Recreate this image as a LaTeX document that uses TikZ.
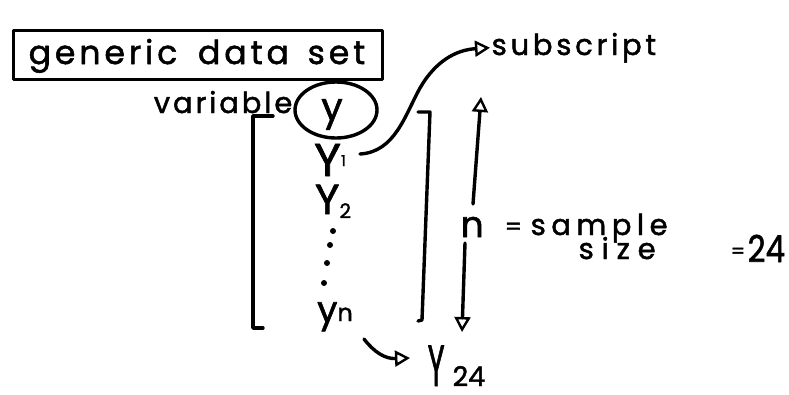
\documentclass[tikz,border=0pt]{standalone}
\usepackage{fontspec}
\setmainfont{Poppins}[FakeBold=1.6]
\usetikzlibrary{arrows.meta,shapes.geometric}

\newcommand{\hw}[2]{\fontsize{#1}{#1}\selectfont\addfontfeature{LetterSpace=#2}}

\begin{document}
\begin{tikzpicture}[x=1pt,y=-1pt,line width=3.4pt,line cap=round,line join=round,
  txt/.style={inner sep=0pt,anchor=base},
  tip/.style={-{Triangle[open,length=15pt,width=16pt,line width=2.4pt]}},
  dot/.style={circle,fill,inner sep=0pt,minimum size=6pt}]
\useasboundingbox (0,0) rectangle (789,394);

% title box
\node[draw,rectangle,minimum width=369pt,minimum height=49pt,anchor=north west,inner sep=0pt] (box) at (12,29) {};
\node[txt] (title) at (197,64) {\hw{33}{12}generic\hspace{8pt} data\hspace{6pt} set};

% variable label and circled y
\node[txt,anchor=base east] (var) at (294,113) {\hw{29}{10}variable};
\node[draw,ellipse,minimum width=82pt,minimum height=56pt,inner sep=0pt] (circ) at (336,110) {};
\node[txt] (yy) at (332,120) {\hw{38}{0}y};

% the column of values
\node[txt] (y1) at (330,176) {\hw{46}{0}Y\raisebox{10pt}{\hw{15}{0}1}};
\node[txt] (y2) at (333,214) {\hw{42}{0}Y\raisebox{-4pt}{\hw{20}{0}2}};
\node[dot] (d1) at (333,231) {};
\node[dot] (d2) at (330,245) {};
\node[dot] (d3) at (327,263) {};
\node[dot] (d4) at (324,283) {};
\node[txt] (yn) at (335,322) {\hw{36}{0}y\raisebox{1pt}{\hw{24}{0}n}};

% brackets
\draw (273,116) -- (253,116) -- (253,328) -- (263,328);
\draw (418,112) -- (430,112) -- (422,320) -- (418,321);

% subscript label
\node[txt,anchor=base west] (sub) at (490,55) {\hw{29}{13}subscript};
\coordinate (y1e) at (360,154);
\draw[tip] (y1e) .. controls (395,152) and (405,115) .. (420,88)
  .. controls (435,62) and (455,50) .. (sub.west);

% sample size
\node[txt,anchor=base west] (n) at (459,237) {\hw{36}{0}n};
\node[txt,anchor=base west] (eqa) at (503,235) {\hw{24}{0}=};
\node[txt,anchor=base west] (sample) at (529,235) {\hw{29}{19}sample};
\node[txt,anchor=base west] (size) at (577,259) {\hw{29}{27}size};
\node[txt,anchor=base west] (eqb) at (729,258) {\hw{20}{0}=};
\node[txt,anchor=base west] (n24) at (746,262) {\hw{37}{0}\scalebox{0.84}[1]{24}};
\coordinate (nt) at (473,204);
\coordinate (up) at (481,97);
\coordinate (nb) at (465,243);
\coordinate (down) at (462,332);
\draw[tip] (nt) -- (up);
\draw[tip] (nb) -- (down);

% y_n maps to Y_24
\node[txt,anchor=base west] (y24) at (426,386) {\hw{58}{0}\scalebox{0.5}[1]{Y}\hspace{8pt}\hw{27}{0}24};
\coordinate (ys) at (364,339);
\draw[tip] (ys) .. controls (374,352) and (385,359) .. (410,358);
\end{tikzpicture}
\end{document}
